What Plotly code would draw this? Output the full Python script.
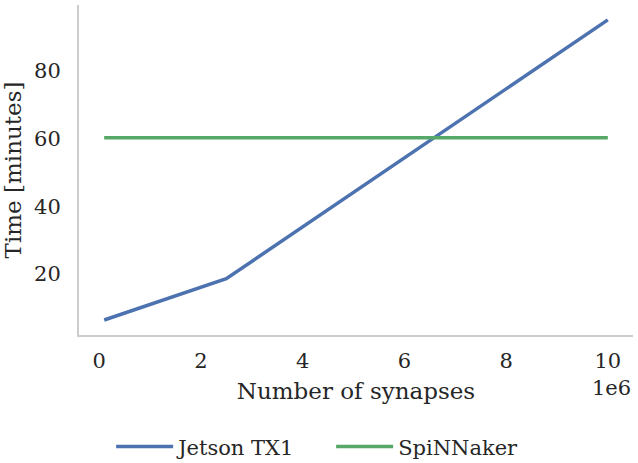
import plotly.graph_objects as go

# synapse counts and run times
jetson_synapses = [0.1e6, 2.5e6, 10e6]
jetson_minutes = [6.4, 18.6, 95.0]
spinnaker_synapses = [0.1e6, 10e6]
spinnaker_minutes = [60.2, 60.2]

x_ticks = [0, 2e6, 4e6, 6e6, 8e6, 10e6]
x_labels = ["0", "2", "4", "6", "8", "10"]
y_ticks = [20, 40, 60, 80]

font = dict(family="DejaVu Serif", size=21, color="#262626")
label_font = dict(family="DejaVu Serif", size=23, color="#262626")
spine = "#cccccc"

fig = go.Figure()
fig.add_trace(go.Scatter(x=jetson_synapses, y=jetson_minutes, mode="lines",
                         name="Jetson TX1",
                         line=dict(color="#4c72b0", width=3.5)))
fig.add_trace(go.Scatter(x=spinnaker_synapses, y=spinnaker_minutes,
                         mode="lines", name="SpiNNaker",
                         line=dict(color="#55a868", width=3.5)))

fig.update_xaxes(range=[-0.395e6, 10.495e6], tickvals=x_ticks,
                 ticktext=x_labels, showgrid=False, zeroline=False,
                 showline=True, linecolor=spine, linewidth=2,
                 ticklabelstandoff=6, automargin=False, tickfont=font,
                 title=dict(text="Number of synapses", standoff=11,
                            font=label_font))
fig.update_yaxes(range=[1.97, 99.4], tickvals=y_ticks, showgrid=False,
                 zeroline=False, showline=True, linecolor=spine,
                 linewidth=2, ticklabelstandoff=12, automargin=False,
                 tickfont=font,
                 title=dict(text="Time [minutes]", standoff=8,
                            font=label_font))

fig.add_annotation(text="1e6", xref="paper", yref="paper", x=1.0, y=-0.161,
                   xanchor="right", yanchor="middle", showarrow=False,
                   font=font)

fig.update_layout(
    width=638, height=463,
    margin=dict(l=79, r=5, t=5, b=128, autoexpand=False),
    paper_bgcolor="white", plot_bgcolor="white",
    font=font,
    showlegend=True,
    legend=dict(orientation="h", x=0.058, y=-0.339, xanchor="left",
                yanchor="middle", itemwidth=57, entrywidth=148, font=font),
)

# drop the browser's default body margin so the figure sits at 0,0
fig.write_html("out.html", config={"displayModeBar": False},
               post_script="document.body.style.margin='0';")
